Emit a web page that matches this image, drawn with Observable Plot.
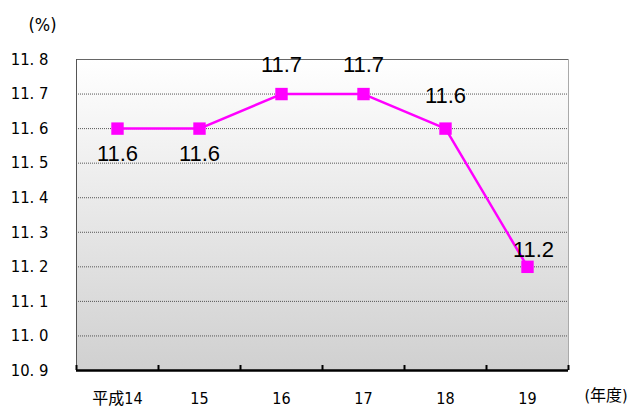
<!DOCTYPE html>
<html><head><meta charset="utf-8">
<script src="https://cdn.jsdelivr.net/npm/d3@7"></script>
<script src="https://cdn.jsdelivr.net/npm/@observablehq/plot@0.6"></script>
<style>body{margin:0;background:#fff}</style></head>
<body><div id="chart"></div>
<script>
const years = ["平成14", "15", "16", "17", "18", "19"];
const rates = [11.6, 11.6, 11.7, 11.7, 11.6, 11.2];
const yTicks = [10.9, 11.0, 11.1, 11.2, 11.3, 11.4, 11.5, 11.6, 11.7, 11.8];
const yUnit = "(%)";
const xUnit = "(年度)";

const data = years.map((year, i) => ({i, year, rate: rates[i]}));
const boundaries = d3.range(years.length + 1).map(k => k - 0.5);
const jpFont = "'DejaVu Sans Condensed', 'Noto Sans CJK JP', sans-serif";
const numFont = "'Liberation Sans', Arial, sans-serif";

const plot = Plot.plot({
  width: 635,
  height: 408,
  marginLeft: 76,
  marginRight: 67,
  marginTop: 59,
  marginBottom: 38,
  x: {type: "linear", domain: [-0.5, years.length - 0.5]},
  y: {domain: [10.9, 11.8]},
  style: {background: "transparent"},
  marks: [
    Plot.frame({fill: "url(#bgGrad)", stroke: null}),
    Plot.gridY(yTicks.slice(1, -1), {stroke: "#555", strokeOpacity: 1, strokeDasharray: "1,1"}),
    Plot.ruleY([11.8], {stroke: "#666"}),
    Plot.ruleX([-0.5], {stroke: "#555"}),
    Plot.ruleX([years.length - 0.5], {stroke: "#aaa"}),
    Plot.ruleY([10.9], {stroke: "#000", strokeWidth: 2.5}),
    Plot.tickX(boundaries, {x: d => d, insetTop: 306, stroke: "#000", strokeWidth: 2}),
    Plot.axisY({ticks: yTicks, tickSize: 0, tickPadding: 28, tickFormat: d => d.toFixed(1).replace(".", ". "), fontSize: 16.5, fontFamily: jpFont, label: null, fill: "#000", letterSpacing: -0.3}),
    Plot.axisX({ticks: d3.range(years.length), tickSize: 0, tickPadding: 22, tickFormat: i => years[i], fontSize: 16, fontFamily: jpFont, label: null, fill: "#000"}),
    Plot.text([yUnit], {frameAnchor: "top-left", textAnchor: "start", lineAnchor: "middle", dx: -48, dy: -34, fontSize: 18, fontFamily: jpFont, fill: "#000"}),
    Plot.text([xUnit], {frameAnchor: "bottom-right", textAnchor: "start", lineAnchor: "middle", dx: 16, dy: 25, fontSize: 16, fontFamily: jpFont, fill: "#000"}),
    Plot.line(data, {x: "i", y: "rate", stroke: "#ff00ff", strokeWidth: 2.5}),
    Plot.dot(data, {x: "i", y: "rate", symbol: "square", r: 7, fill: "#ff00ff", stroke: null}),
    Plot.text(data.filter(d => d.i <= 1), {x: "i", y: "rate", text: d => d.rate.toFixed(1), dy: 25, fontSize: 22, fontFamily: numFont, fill: "#000", letterSpacing: -0.5}),
    Plot.text(data.filter(d => d.i === 2 || d.i === 3), {x: "i", y: "rate", text: d => d.rate.toFixed(1), dy: -29, fontSize: 22, fontFamily: numFont, fill: "#000", letterSpacing: -0.5}),
    Plot.text(data.filter(d => d.i === 4), {x: "i", y: "rate", text: d => d.rate.toFixed(1), dy: -33, fontSize: 22, fontFamily: numFont, fill: "#000", letterSpacing: -0.5}),
    Plot.text(data.filter(d => d.i === 5), {x: "i", y: "rate", text: d => d.rate.toFixed(1), dx: 6, dy: -17, fontSize: 22, fontFamily: numFont, fill: "#000", letterSpacing: -0.5})
  ]
});

const svg = d3.select(plot);
const defs = svg.insert("defs", ":first-child");
const grad = defs.append("linearGradient").attr("id", "bgGrad").attr("x1", 0).attr("y1", 0).attr("x2", 0).attr("y2", 1);
grad.append("stop").attr("offset", "0%").attr("stop-color", "#ffffff");
grad.append("stop").attr("offset", "100%").attr("stop-color", "#d0d0d0");
document.getElementById("chart").appendChild(plot);
</script>
</body></html>
